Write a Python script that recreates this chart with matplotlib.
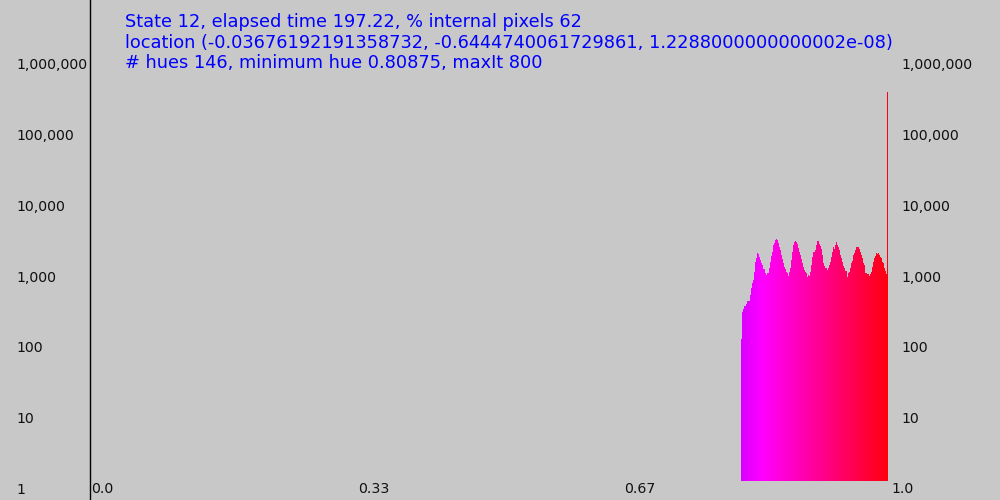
import colorsys

import matplotlib
matplotlib.use('Agg')
import matplotlib.pyplot as plt

# histogram: one bin per hue step of 1/maxIt, starting at the minimum hue
max_it = 800
hue_min = 0.80875
counts = [
    102, 246, 269, 296, 296, 316, 352, 352, 424, 532,
    626, 690, 904, 1251, 1412, 1678, 1607, 1472, 1322, 1199,
    1124, 987, 987, 867, 812, 867, 867, 1020, 1251, 1506,
    1733, 2154, 2300, 2535, 2594, 2535, 2300, 2038, 1832, 1556,
    1367, 1199, 1064, 987, 904, 867, 786, 904, 1020, 1322,
    1733, 2154, 2399, 2477, 2399, 2225, 1954, 1733, 1556, 1367,
    1199, 1064, 955, 904, 875, 769, 812, 794, 904, 1124,
    1472, 1733, 1700, 1832, 2154, 2477, 2454, 2200, 2100, 1900,
    1556, 1210, 1090, 1030, 1010, 955, 1010, 1124, 1251, 1472,
    1733, 1990, 1900, 2154, 2350, 2154, 1990, 1832, 1556, 1400,
    1251, 1090, 1030, 920, 920, 769, 860, 904, 1010, 1190,
    1300, 1556, 1640, 1832, 2038, 1990, 1990, 1900, 1733, 1556,
    1400, 1190, 1124, 875, 875, 830, 830, 794, 830, 904,
    1064, 1251, 1400, 1506, 1640, 1607, 1678, 1556, 1472, 1400,
    1251, 1190, 1010, 920, 830, 312000,
]
hues = [hue_min + i / max_it for i in range(len(counts))]

y_ticks = [1, 10, 100, 1000, 10000, 100000, 1000000]
x_ticks = [0.0, 1 / 3, 2 / 3, 1.0]
x_tick_labels = ['0.0', '0.33', '0.67', '1.0']

title_lines = [
    'State 12, elapsed time 197.22, % internal pixels 62',
    'location (-0.03676192191358732, -0.6444740061729861, 1.2288000000000002e-08)',
    '# hues 146, minimum hue 0.80875, maxIt 800',
]

bg = '#c8c8c8'
fig = plt.figure(figsize=(10, 5), dpi=100, facecolor=bg)
ax = fig.add_axes([0, 0, 1, 1])
ax.set_facecolor(bg)

# pixel mapping: hue 0 sits at x=90, about 805 px per unit hue
k = 805.5
ax.set_xlim(-90 / k, 910 / k)
ax.set_yscale('log')
# value 1 at y=481 px from top, 70.8 px per decade
decade = 70.8
ax.set_ylim(10 ** (-19 / decade), 10 ** (481 / decade))
for s in ax.spines.values():
    s.set_visible(False)
ax.set_xticks([])
ax.set_yticks([])
ax.minorticks_off()

colors = [colorsys.hsv_to_rgb(h, 1, 1) for h in hues]
heights = [c - 1 for c in counts]
ax.bar(hues, heights, width=1 / max_it, bottom=1, align='edge',
       color=colors, linewidth=0, antialiased=False)

ax.axvline(0, color='black', lw=1)

for v in y_ticks:
    label = '{:,}'.format(v)
    # the right-hand "1" would sit under the "1.0" label
    sides = (16, 901) if v > 1 else (16,)
    for px in sides:
        ax.annotate(label, xy=(0, v), xycoords=('figure pixels', 'data'),
                    xytext=(px, -9), textcoords='offset pixels',
                    ha='left', va='center', fontsize=10.2, color='#111111')

# hue labels are laid out on an 800 px scale from the left axis
for x, label in zip(x_ticks, x_tick_labels):
    fig.text((91 + 800 * x) / 1000, 11 / 500, label,
             ha='left', va='center', fontsize=10.2, color='#111111')

for i, line in enumerate(title_lines):
    fig.text(125 / 1000, 1 - (22 + 20.5 * i) / 500, line, color='#0000ff',
             fontsize=12.8, ha='left', va='center')

fig.savefig('out.png', dpi=100, facecolor=bg)
